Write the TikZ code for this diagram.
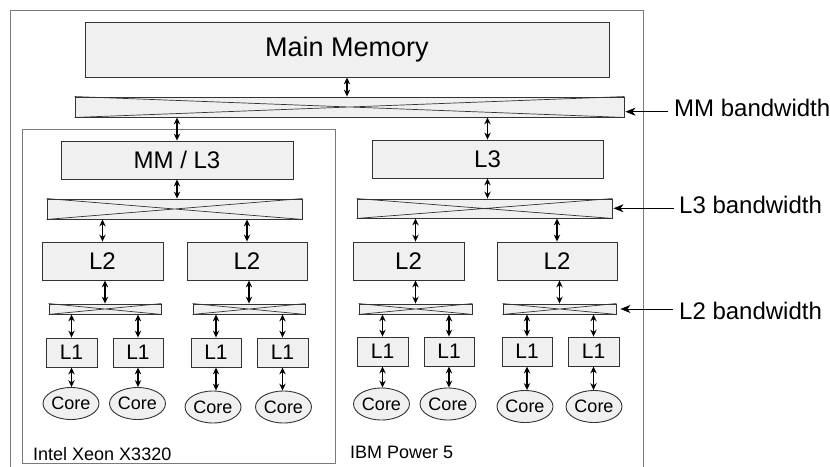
\documentclass[tikz,border=0pt]{standalone}
\usepackage{fontspec}
\setmainfont{Liberation Sans}
\usetikzlibrary{arrows.meta,shapes.geometric,calc}
\definecolor{boxfill}{HTML}{F0F0F0}
\definecolor{boxline}{HTML}{333333}
\definecolor{frameline}{HTML}{7A7A7A}
\newcommand{\fsz}[1]{\fontsize{#1}{#1}\selectfont}
\begin{document}
\begin{tikzpicture}[x=1pt,y=-1pt,
  box/.style={draw=boxline, fill=boxfill, line width=0.9pt, inner sep=0pt, rectangle},
  core/.style={draw=boxline, fill=boxfill, line width=0.9pt, ellipse, inner sep=0pt,
    minimum width=56pt, minimum height=32pt, font=\fsz{18}},
  bi/.style={line width=1.8pt, black,
    {Stealth[length=7pt,width=6.5pt,line width=0pt]}-{Stealth[length=7pt,width=6.5pt,line width=0pt]}},
  bwarrow/.style={line width=0.8pt, -{Stealth[length=10pt,width=8pt,inset=3pt]}, shorten >=1pt},
  lbl/.style={anchor=base west, inner sep=0pt, font=\fsz{24}},
  chip/.style={anchor=base west, inner sep=0pt, font=\fsz{18}},
  frame/.style={draw=frameline, line width=1.3pt, rectangle, inner sep=0pt, anchor=north west}
]
\useasboundingbox (0,0) rectangle (830,466);

% frames
\node[frame, minimum width=633pt, minimum height=480pt] (outer) at (10,10) {};
\node[frame, minimum width=313pt, minimum height=334pt] (intel) at (22,129) {};

% top level
\node[box, minimum width=524pt, minimum height=55pt, font=\fsz{27}] (MM) at (347,49.5) {Main Memory};
\node[box, minimum width=549pt, minimum height=20pt] (MMx) at (349.5,107) {};

% L3 level
\node[box, minimum width=232pt, minimum height=38pt, font=\fsz{24}] (MML3) at (177,160) {MM / L3};
\node[box, minimum width=231pt, minimum height=38pt, font=\fsz{24}] (L3) at (487.5,159) {L3};
\node[box, minimum width=255pt, minimum height=20pt] (X3i) at (174.5,209) {};
\node[box, minimum width=255pt, minimum height=19pt] (X3b) at (484.5,208.5) {};

% L2 level
\node[box, minimum width=121pt, minimum height=38pt, font=\fsz{24}] (L2a) at (102.5,261) {L2};
\node[box, minimum width=120pt, minimum height=38pt, font=\fsz{24}] (L2b) at (247,261) {L2};
\node[box, minimum width=111pt, minimum height=38pt, font=\fsz{24}] (L2c) at (408.5,261) {L2};
\node[box, minimum width=120pt, minimum height=38pt, font=\fsz{24}] (L2d) at (557,261) {L2};
\node[box, minimum width=112pt, minimum height=10pt] (Xa) at (105,309) {};
\node[box, minimum width=112pt, minimum height=10pt] (Xb) at (249,309) {};
\node[box, minimum width=113pt, minimum height=10pt] (Xc) at (415.5,309) {};
\node[box, minimum width=113pt, minimum height=10pt] (Xd) at (559.5,309) {};

% L1 level
\node[box, minimum width=51pt, minimum height=29pt, font=\fsz{21}] (L1a) at (71.5,352.5) {L1};
\node[box, minimum width=50pt, minimum height=29pt, font=\fsz{21}] (L1b) at (138,352.5) {L1};
\node[box, minimum width=50pt, minimum height=29pt, font=\fsz{21}] (L1c) at (216,352.5) {L1};
\node[box, minimum width=51pt, minimum height=29pt, font=\fsz{21}] (L1d) at (282.5,352.5) {L1};
\node[box, minimum width=51pt, minimum height=29pt, font=\fsz{21}] (L1e) at (382.5,351.5) {L1};
\node[box, minimum width=50pt, minimum height=29pt, font=\fsz{21}] (L1f) at (449,351.5) {L1};
\node[box, minimum width=50pt, minimum height=29pt, font=\fsz{21}] (L1g) at (527,351.5) {L1};
\node[box, minimum width=51pt, minimum height=29pt, font=\fsz{21}] (L1h) at (593.5,351.5) {L1};

% cores
\node[core] (Ca) at (71,403.5) {Core};
\node[core] (Cb) at (137.5,403.5) {Core};
\node[core] (Cc) at (213,407) {Core};
\node[core] (Cd) at (283.5,407) {Core};
\node[core] (Ce) at (381.5,404) {Core};
\node[core] (Cf) at (448,404) {Core};
\node[core] (Cg) at (525,406.5) {Core};
\node[core] (Ch) at (594,406.5) {Core};

% crossbar X marks
\foreach \n in {MMx,X3i,X3b,Xa,Xb,Xc,Xd}
  \draw[boxline, line width=0.7pt] (\n.north west) -- (\n.south east)
                                   (\n.south west) -- (\n.north east);

% vertical double arrows
\draw[bi] (MM.south) -- (MM.south |- MMx.north);
\draw[bi] (MML3.north |- MMx.south) -- (MML3.north);
\draw[bi] (L3.north |- MMx.south) -- (L3.north);
\draw[bi] (MML3.south) -- (MML3.south |- X3i.north);
\draw[bi] (L3.south) -- (L3.south |- X3b.north);
\draw[bi] (L2a.north |- X3i.south) -- (L2a.north);
\draw[bi] (L2b.north |- X3i.south) -- (L2b.north);
\draw[bi] (Xc.north |- X3b.south) -- (Xc.north |- L2c.north);
\draw[bi] (L2d.north |- X3b.south) -- (L2d.north);
\draw[bi] (Xa.north |- L2a.south) -- (Xa.north);
\draw[bi] (Xb.north |- L2b.south) -- (Xb.north);
\draw[bi] (Xc.north |- L2c.south) -- (Xc.north);
\draw[bi] (Xd.north |- L2d.south) -- (Xd.north);
\foreach \x/\l in {Xa/L1a,Xa/L1b,Xb/L1c,Xb/L1d,Xc/L1e,Xc/L1f,Xd/L1g,Xd/L1h}
  \draw[bi] (\l.north |- \x.south) -- (\l.north);
\foreach \l/\c in {L1a/Ca,L1b/Cb,L1c/Cc,L1d/Cd,L1e/Ce,L1f/Cf,L1g/Cg,L1h/Ch}
  \draw[bi] (\l.south) -- (\l.south |- \c.north);

% chip labels
\node[chip] (intelname) at (33,460) {Intel Xeon X3320};
\node[chip] (ibmname) at (350,458) {IBM Power 5};

% bandwidth labels
\node[lbl] (bwMM) at (674,116.7) {MM bandwidth};
\node[lbl] (bwL3) at (679,213.3) {L3 bandwidth};
\node[lbl] (bwL2) at (679,319) {L2 bandwidth};
\draw[bwarrow] ($(bwMM.base west)+(-6,-5)$) -- ($(MMx.east |- bwMM.base west)+(0,-5)$);
\draw[bwarrow] ($(bwL3.base west)+(-5,-5)$) -- ($(X3b.east |- bwL3.base west)+(0,-5)$);
\draw[bwarrow, shorten >=4pt] ($(bwL2.base west)+(-6,-10)$) -- ($(Xd.east |- bwL2.base west)+(0,-10)$);
\end{tikzpicture}
\end{document}
